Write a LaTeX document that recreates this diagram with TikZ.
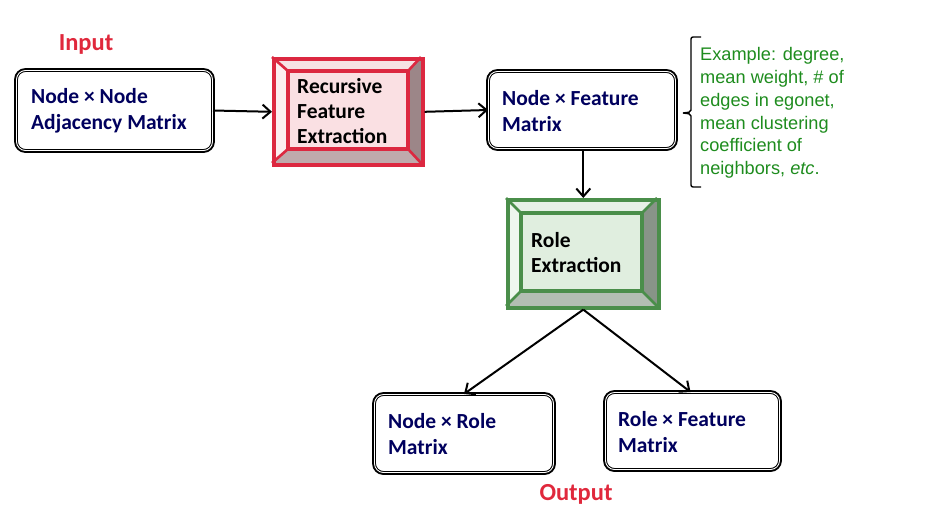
\documentclass[tikz,border=0pt]{standalone}
\usepackage{fontspec}
\setmainfont{Carlito}
\newfontfamily\arialfont{Liberation Sans}
\usetikzlibrary{arrows.meta}
\definecolor{navy}{HTML}{00005E}
\definecolor{redb}{HTML}{DC2840}
\definecolor{redfill}{HTML}{FAE0E3}
\definecolor{redlight}{HTML}{FCEEF0}
\definecolor{redtop}{HTML}{F6E2E4}
\definecolor{reddark}{HTML}{9C8688}
\definecolor{redbot}{HTML}{BFAAAC}
\definecolor{greenb}{HTML}{4A8E4A}
\definecolor{greenfill}{HTML}{E0EEDF}
\definecolor{greenlight}{HTML}{EEF6EE}
\definecolor{greentop}{HTML}{E6F0E6}
\definecolor{greendark}{HTML}{889488}
\definecolor{greenbot}{HTML}{B2BEB2}
\definecolor{txtgreen}{HTML}{1E8C1E}
\definecolor{lblred}{HTML}{E0283C}
\tikzset{
  mbox/.style={preaction={draw=black, line width=4.8pt}, draw=black, double=white, double distance=0.9pt, line width=1pt,
    rounded corners=9pt, fill=white},
  btxt/.style={text=navy, font=\bfseries\fontsize{21.5}{26}\selectfont, align=left, anchor=west, inner sep=0pt},
  ktxt/.style={text=black, font=\bfseries\fontsize{21.5}{25}\selectfont, align=left, anchor=west, inner sep=0pt},
  gtxt/.style={text=txtgreen, font=\arialfont\fontsize{18.2}{22.8}\selectfont, align=left, anchor=west, inner sep=0pt},
  lbl/.style={text=lblred, font=\bfseries\fontsize{24.5}{28}\selectfont, inner sep=0pt},
  arr/.style={-{Straight Barb[length=8pt,width=14pt,line width=2pt]}, line width=2pt, black},
}
\newcommand{\bevelbox}[9]{%
  \fill[\bvpre top] (#2,#3) -- (#4,#3) -- (#8,#7) -- (#6,#7) -- cycle;
  \fill[\bvpre light] (#2,#3) -- (#6,#7) -- (#6,#9) -- (#2,#5) -- cycle;
  \fill[\bvpre dark] (#4,#3) -- (#4,#5) -- (#8,#9) -- (#8,#7) -- cycle;
  \fill[\bvpre bot] (#2,#5) -- (#4,#5) -- (#8,#9) -- (#6,#9) -- cycle;
  \fill[\bvpre fill] (#6,#7) rectangle (#8,#9);
  \draw[\bvpre b, line width=2.6pt] (#2,#3) -- (#6,#7) (#4,#3) -- (#8,#7) (#4,#5) -- (#8,#9) (#2,#5) -- (#6,#9);
  \draw[\bvpre b, line width=3.6pt] (#6,#7) rectangle (#8,#9);
  \node[draw=\bvpre b, line width=3.6pt, inner sep=0pt, minimum width=#4-#2, minimum height=#5-#3, anchor=north west] (#1) at (#2,#3) {};
}
\begin{document}
\begin{tikzpicture}[x=1pt,y=-1pt]
\useasboundingbox (0,0) rectangle (934,517);

% Input/Output labels
\node[lbl] (inp) at (86,44) {Input};
\node[lbl] (outp) at (576,494) {Output};

% Node x Node adjacency
\node[mbox, minimum width=196pt, minimum height=80pt, anchor=north west] (adj) at (16,70) {};
\node[btxt] (adjt) at (31,111) {Node × Node\\Adjacency Matrix};

% Recursive feature extraction
\def\bvpre{red}
\bevelbox{rfe}{272}{57}{421}{163}{288}{71}{408}{149}
\node[ktxt] (rfet) at (297,111) {Recursive\\Feature\\Extraction};

% Node x Feature
\node[mbox, minimum width=187pt, minimum height=77pt, anchor=north west] (nfm) at (488,71) {};
\node[btxt] (nfmt) at (502,111) {Node × Feature\\Matrix};

% Role extraction
\def\bvpre{green}
\bevelbox{re}{506}{198}{657}{306}{521}{213}{642}{291}
\node[ktxt] (ret) at (531,253) {Role\\Extraction};

% Node x Role
\node[mbox, minimum width=179pt, minimum height=78pt, anchor=north west] (nrm) at (374,394) {};
\node[btxt] (nrmt) at (388,434) {Node × Role\\Matrix};

% Role x Feature
\node[mbox, minimum width=174pt, minimum height=77pt, anchor=north west] (rfm) at (605,392) {};
\node[btxt] (rfmt) at (618,432) {Role × Feature\\Matrix};

% Brace + example text
\coordinate (bt) at (701,37);
\coordinate (bb) at (701,187);
\draw[black, line width=1.4pt, rounded corners=2pt] (bt) -- (691,37) -- (691,112) -- (683,113) (683,113) -- (691,114) -- (691,187) -- (bb);
\node[gtxt] (ex) at (700,113) {Example: degree,\\mean weight, \# of\\edges in egonet,\\mean clustering\\coefficient of\\neighbors, \textit{etc}.};

% Arrows
\draw[arr] (adj.east) -- (rfe.west);
\draw[arr] (rfe.east) -- (nfm.west);
\draw[arr] (nfm.south -| re.north) -- (re.north);
\draw[arr] (re.south) -- (nrm.north);
\draw[arr] (re.south) -- ([xshift=-2pt]rfm.north);
\end{tikzpicture}
\end{document}
